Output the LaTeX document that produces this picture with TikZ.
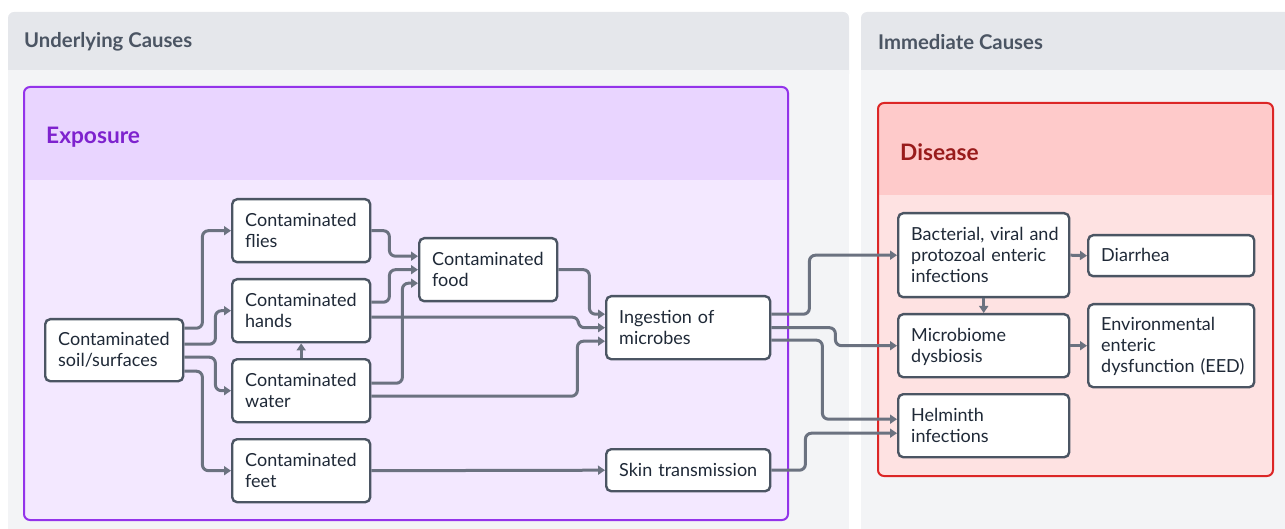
\documentclass[tikz,border=0pt]{standalone}
\usepackage{fontspec}
\setmainfont{Lato}
\usetikzlibrary{arrows.meta}
\definecolor{laneHead}{HTML}{E5E7EB}
\definecolor{laneBody}{HTML}{F3F4F6}
\definecolor{laneText}{HTML}{4B5563}
\definecolor{expHead}{HTML}{E9D5FF}
\definecolor{expBody}{HTML}{F3E8FF}
\definecolor{expLine}{HTML}{9333EA}
\definecolor{expText}{HTML}{7E22CE}
\definecolor{disHead}{HTML}{FECACA}
\definecolor{disBody}{HTML}{FEE2E2}
\definecolor{disLine}{HTML}{DC2626}
\definecolor{disText}{HTML}{991B1B}
\definecolor{boxLine}{HTML}{4B5563}
\definecolor{boxText}{HTML}{1F2937}
\definecolor{flowLine}{HTML}{6B7280}
\newcommand{\boxlines}[1]{\raisebox{-2pt}[\height][\depth]{\begin{tabular}{@{}l@{}}#1\end{tabular}}}

\begin{document}
\begin{tikzpicture}[x=1pt,y=-1pt,
  box/.style={draw=boxLine,fill=white,line width=2.4pt,rounded corners=5pt,
    text=boxText,align=left,text width=112pt,minimum height=63pt,
    inner xsep=13pt,inner ysep=0pt,anchor=north west,
    font=\fontsize{18}{21}\selectfont},
  flow/.style={draw=flowLine,line width=3pt,rounded corners=6pt,
    -{Triangle[length=7pt,width=9pt]}},
  lanetitle/.style={anchor=west,inner sep=0pt,text=laneText,
    font=\fontsize{20.3}{24}\selectfont\bfseries},
  grouptitle/.style={anchor=west,inner sep=0pt,
    font=\fontsize{22.7}{26}\selectfont\bfseries}]
\useasboundingbox (0,0) rectangle (1285,529);

% lanes
\fill[laneHead,rounded corners=6pt] (8,12) rectangle (849,80);
\fill[laneBody] (8,70) rectangle (849,540);
\fill[laneHead,rounded corners=6pt] (861,12) rectangle (1295,80);
\fill[laneBody] (861,70) rectangle (1295,540);
\node[lanetitle] (under) at (24,42) {Underlying Causes};
\node[lanetitle] (immed) at (878,42) {Immediate Causes};

% exposure group
\fill[expBody,rounded corners=6pt] (24,87) rectangle (788,520);
\fill[expHead,rounded corners=6pt] (24,87) rectangle (788,190);
\fill[expBody] (24,180) rectangle (788,190);
\draw[expLine,line width=2pt,rounded corners=6pt] (24,87) rectangle (788,520);
\node[grouptitle,text=expText] (exposure) at (46,137) {Exposure};

% disease group
\fill[disBody,rounded corners=6pt] (878,103) rectangle (1273,476);
\fill[disHead,rounded corners=6pt] (878,103) rectangle (1273,205);
\fill[disBody] (878,195) rectangle (1273,205);
\draw[disLine,line width=2pt,rounded corners=6pt] (878,103) rectangle (1273,476);
\node[grouptitle,text=disText] (disease) at (900,152) {Disease};

% nodes
\node[box,minimum height=62pt] (soil) at (44,318) {\boxlines{Contaminated\\soil/surfaces}};
\node[box] (flies) at (231,198) {\boxlines{Contaminated\\flies}};
\node[box] (hands) at (231,278) {\boxlines{Contaminated\\hands}};
\node[box] (water) at (231,358) {\boxlines{Contaminated\\water}};
\node[box] (feet) at (231,438) {\boxlines{Contaminated\\feet}};
\node[box] (food) at (418,237) {\boxlines{Contaminated\\food}};
\node[box,text width=138pt] (ingest) at (605,295) {\boxlines{Ingestion of\\microbes}};
\node[box,text width=138pt,minimum height=42pt] (skin) at (605,448) {\boxlines{Skin transmission}};
\node[box,text width=145pt,minimum height=84pt] (bact) at (897,212) {\boxlines{Bacterial, viral and\\protozoal enteric\\infections}};
\node[box,text width=140pt,minimum height=41pt] (diarrhea) at (1087,234) {\boxlines{Diarrhea}};
\node[box,text width=145pt] (micro) at (897,313) {\boxlines{Microbiome\\dysbiosis}};
\node[box,text width=140pt,minimum height=83pt] (eed) at (1087,303) {\boxlines{Environmental\\enteric\\dysfunction (EED)}};
\node[box,text width=145pt] (helm) at (897,393) {\boxlines{Helminth\\infections}};

% connectors
\draw[flow] ([yshift=22pt]soil.east) -- ++(18,0) |- (flies.west);
\draw[flow] ([yshift=6pt]soil.east) -- ++(31,0) |- (hands.west);
\draw[flow] ([yshift=-7pt]soil.east) -- ++(31,0) |- (water.west);
\draw[flow] ([yshift=-21pt]soil.east) -- ++(18,0) |- (feet.west);
\draw[flow] (water.north) -- (hands.south);
\draw[flow] (flies.east) -- ++(18,0) |- ([yshift=13.5pt]food.west);
\draw[flow] ([yshift=8.5pt]hands.east) -- ++(18,0) |- (food.west);
\draw[flow] ([yshift=7.5pt]water.east) -- ++(31,0) |- ([yshift=-13.5pt]food.west);
\draw[flow] (food.east) -- ++(31,0) |- ([yshift=13.5pt]ingest.west);
\draw[flow] ([yshift=-6.5pt]hands.east) -- ++(207,0) |- (ingest.west);
\draw[flow] ([yshift=-5.5pt]water.east) -- ++(206,0) |- ([yshift=-13.5pt]ingest.west);
\draw[flow] (feet.east) -- (skin.west);
\draw[flow] ([yshift=13.5pt]ingest.east) -- ++(38,0) |- (bact.west);
\draw[flow] (ingest.east) -- ++(64,0) |- (micro.west);
\draw[flow] ([yshift=-12.5pt]ingest.east) -- ++(51,0) |- ([yshift=6.5pt]helm.west);
\draw[flow] (skin.east) -- ++(34,0) |- ([yshift=-7.5pt]helm.west);
\draw[flow] (bact.east) -- (diarrhea.west);
\draw[flow] (bact.south) -- (micro.north);
\draw[flow] (micro.east) -- (eed.west);
\end{tikzpicture}
\end{document}
